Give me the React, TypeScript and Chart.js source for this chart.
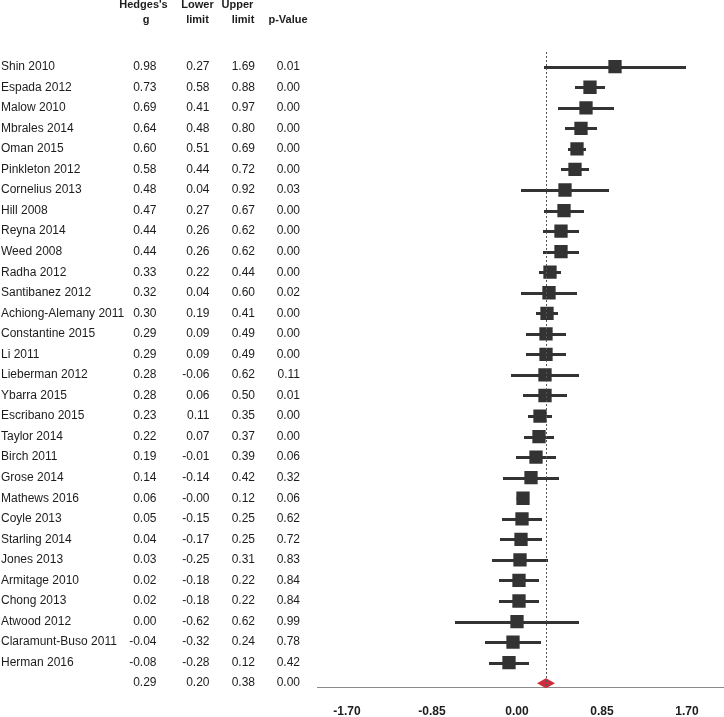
import React, { useEffect, useRef } from "react";
import { Chart, registerables } from "chart.js";

Chart.register(...registerables);

const studies = [
  "Shin 2010", "Espada 2012", "Malow 2010", "Mbrales 2014", "Oman 2015",
  "Pinkleton 2012", "Cornelius 2013", "Hill 2008", "Reyna 2014", "Weed 2008",
  "Radha 2012", "Santibanez 2012", "Achiong-Alemany 2011", "Constantine 2015", "Li 2011",
  "Lieberman 2012", "Ybarra 2015", "Escribano 2015", "Taylor 2014", "Birch 2011",
  "Grose 2014", "Mathews 2016", "Coyle 2013", "Starling 2014", "Jones 2013",
  "Armitage 2010", "Chong 2013", "Atwood 2012", "Claramunt-Buso 2011", "Herman 2016",
];
const hedgesG = [
  0.98, 0.73, 0.69, 0.64, 0.60, 0.58, 0.48, 0.47, 0.44, 0.44,
  0.33, 0.32, 0.30, 0.29, 0.29, 0.28, 0.28, 0.23, 0.22, 0.19,
  0.14, 0.06, 0.05, 0.04, 0.03, 0.02, 0.02, 0.00, -0.04, -0.08,
];
const lowerLimit = [
  0.27, 0.58, 0.41, 0.48, 0.51, 0.44, 0.04, 0.27, 0.26, 0.26,
  0.22, 0.04, 0.19, 0.09, 0.09, -0.06, 0.06, 0.11, 0.07, -0.01,
  -0.14, -0.004, -0.15, -0.17, -0.25, -0.18, -0.18, -0.62, -0.32, -0.28,
];
const upperLimit = [
  1.69, 0.88, 0.97, 0.80, 0.69, 0.72, 0.92, 0.67, 0.62, 0.62,
  0.44, 0.60, 0.41, 0.49, 0.49, 0.62, 0.50, 0.35, 0.37, 0.39,
  0.42, 0.12, 0.25, 0.25, 0.31, 0.22, 0.22, 0.62, 0.24, 0.12,
];
const pValues = [
  0.01, 0.00, 0.00, 0.00, 0.00, 0.00, 0.03, 0.00, 0.00, 0.00,
  0.00, 0.02, 0.00, 0.00, 0.00, 0.11, 0.01, 0.00, 0.00, 0.06,
  0.32, 0.06, 0.62, 0.72, 0.83, 0.84, 0.84, 0.99, 0.78, 0.42,
];
// summary: [g, lower, upper, p]
const summaryValues = [0.29, 0.20, 0.38, 0.00];
const xTickValues = [-1.7, -0.85, 0, 0.85, 1.7];

const FONT = "'Liberation Sans', Arial, sans-serif";
const TEXT = "#1c1c1c";

const forestPlugin = {
  id: "forest",
  beforeDatasetsDraw(chart: any) {
    const { ctx, scales } = chart;
    const x = scales.x;
    const y = scales.y;
    ctx.save();
    ctx.strokeStyle = "#333333";
    ctx.lineWidth = 3;
    ctx.lineCap = "butt";
    for (let i = 0; i < studies.length; i++) {
      const py = Math.round(y.getPixelForValue(i)) + 0.5;
      ctx.beginPath();
      ctx.moveTo(x.getPixelForValue(lowerLimit[i]), py);
      ctx.lineTo(x.getPixelForValue(upperLimit[i]), py);
      ctx.stroke();
    }
    const sy = y.getPixelForValue(studies.length);
    ctx.fillStyle = "#cf2b3a";
    ctx.beginPath();
    ctx.moveTo(x.getPixelForValue(summaryValues[1]), sy);
    ctx.lineTo(x.getPixelForValue(summaryValues[0]), sy - 5);
    ctx.lineTo(x.getPixelForValue(summaryValues[2]), sy);
    ctx.lineTo(x.getPixelForValue(summaryValues[0]), sy + 5);
    ctx.closePath();
    ctx.fill();
    ctx.restore();
  },
  afterDatasetsDraw(chart: any) {
    const { ctx, scales, chartArea } = chart;
    const x = scales.x;
    const px = Math.round(x.getPixelForValue(summaryValues[0])) + 0.5;
    ctx.save();
    ctx.strokeStyle = "#555555";
    ctx.lineWidth = 1;
    ctx.setLineDash([2, 2]);
    ctx.beginPath();
    ctx.moveTo(px, chartArea.top);
    ctx.lineTo(px, chartArea.bottom);
    ctx.stroke();
    ctx.restore();
  },
  afterDraw(chart: any) {
    const { ctx, scales } = chart;
    const y = scales.y;
    ctx.save();
    ctx.fillStyle = TEXT;
    ctx.textBaseline = "middle";
    ctx.font = `bold 11px ${FONT}`;
    ctx.textAlign = "center";
    ctx.fillText("Hedges's", 143.5, 5);
    ctx.fillText("g", 146, 20);
    ctx.fillText("Lower", 197.5, 5);
    ctx.fillText("limit", 197.5, 20);
    ctx.fillText("Upper", 237.5, 5);
    ctx.fillText("limit", 243, 20);
    ctx.fillText("p-Value", 288, 20);
    ctx.font = `12px ${FONT}`;
    const rows = studies.length + 1;
    for (let i = 0; i < rows; i++) {
      const py = y.getPixelForValue(i);
      const isSummary = i === studies.length;
      const g = isSummary ? summaryValues[0] : hedgesG[i];
      const lo = isSummary ? summaryValues[1] : lowerLimit[i];
      const hi = isSummary ? summaryValues[2] : upperLimit[i];
      const p = isSummary ? summaryValues[3] : pValues[i];
      if (!isSummary) {
        ctx.textAlign = "left";
        ctx.fillText(studies[i], 1, py);
      }
      ctx.textAlign = "right";
      ctx.fillText(g.toFixed(2), 156.5, py);
      ctx.fillText(lo.toFixed(2), 209.5, py);
      ctx.fillText(hi.toFixed(2), 255, py);
      ctx.fillText(p.toFixed(2), 300, py);
    }
    ctx.restore();
  },
};

export default function App() {
  const canvasRef = useRef<HTMLCanvasElement | null>(null);

  useEffect(() => {
    document.body.style.margin = "0";
    document.body.style.overflow = "hidden";
    const canvas = canvasRef.current;
    if (!canvas) return;
    const chart = new Chart(canvas, {
      type: "scatter",
      data: {
        datasets: [
          {
            data: hedgesG.map((g, i) => ({ x: g, y: i })),
            pointStyle: "rect",
            pointRadius: 9.4,
            pointHoverRadius: 9.4,
            backgroundColor: "#333333",
            borderWidth: 0,
          },
        ],
      },
      options: {
        responsive: false,
        animation: false,
        devicePixelRatio: 1,
        layout: { autoPadding: false, padding: { top: 52, left: 317, right: 0, bottom: 0 } },
        plugins: { legend: { display: false }, tooltip: { enabled: false } },
        scales: {
          x: {
            type: "linear",
            min: -2,
            max: 2.07,
            afterBuildTicks: (scale: any) => {
              scale.ticks = xTickValues.map((v) => ({ value: v }));
            },
            afterFit: (scale: any) => {
              scale.height = 29.5;
              scale.paddingLeft = 0;
              scale.paddingRight = 0;
            },
            grid: { display: false, drawTicks: false },
            border: { display: true, color: "#8a8a8a", width: 1 },
            ticks: {
              autoSkip: false,
              maxRotation: 0,
              padding: 19.5,
              color: TEXT,
              font: { family: FONT, size: 12, weight: "bold", lineHeight: 10 / 12 },
              callback: (v: any) => Number(v).toFixed(2),
            },
          },
          y: {
            type: "linear",
            reverse: true,
            min: -0.715,
            max: 30.21,
            display: false,
          },
        },
      },
      plugins: [forestPlugin],
    });
    return () => chart.destroy();
  }, []);

  return (
    <div style={{ width: 724, height: 717 }}>
      <canvas ref={canvasRef} width={724} height={717} style={{ display: "block", width: 724, height: 717 }} />
    </div>
  );
}
